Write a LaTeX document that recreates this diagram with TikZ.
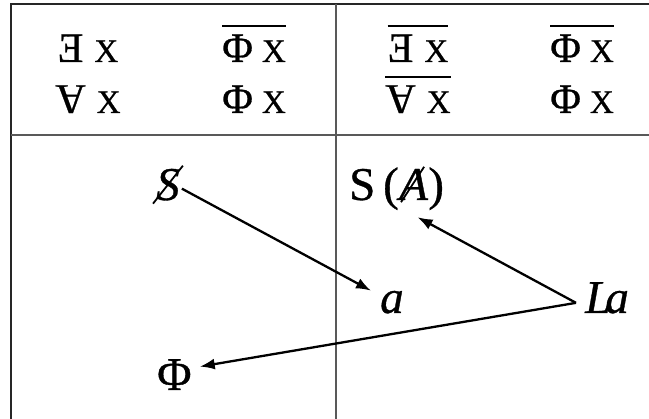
\documentclass[tikz,border=0pt]{standalone}
\usepackage{fontspec}
\usepackage{graphicx}
\setmainfont{Liberation Serif}[FakeBold=0.7]
\usetikzlibrary{arrows.meta}
\newcommand{\myexists}{\reflectbox{E}}
\newcommand{\myforall}{\rotatebox[origin=c]{180}{A}}
\newcommand{\smallx}{{\fontsize{33}{35}\selectfont X}}
\begin{document}
\begin{tikzpicture}[x=1pt,y=-1pt,
  frame/.style={line width=2pt, black!85},
  gridline/.style={line width=1.5pt, black!65},
  top/.style={font=\fontsize{42}{46}\selectfont, inner sep=0pt, anchor=base},
  lab/.style={font=\fontsize{47}{50}\selectfont, inner sep=0pt, anchor=base west},
  bar/.style={line width=2pt},
  strike/.style={line width=1.8pt},
  arr/.style={-{Latex[length=15pt,width=11pt]}, line width=2.3pt}]
\useasboundingbox (0,0) rectangle (649,419);
% frame and grid
\draw[frame] (11,419) -- (11,4) -- (649,4);
\draw[gridline] (11,135) -- (649,135);
\draw[gridline] (336,4) -- (336,419);
% top-left cell
\node[top] (e1) at (88,62) {\myexists\hspace{11pt}\smallx};
\node[top] (f1) at (88,113) {\myforall\hspace{11pt}\smallx};
\node[top] (p1) at (254,62) {Φ\hspace{9pt}\smallx};
\node[top] (p2) at (254,113) {Φ\hspace{9pt}\smallx};
\draw[bar] ([yshift=8pt]p1.north west) -- ([yshift=8pt]p1.north east);
% top-right cell
\node[top] (e2) at (418,62) {\myexists\hspace{11pt}\smallx};
\node[top] (f2) at (418,113) {\myforall\hspace{11pt}\smallx};
\node[top] (p3) at (582,62) {Φ\hspace{9pt}\smallx};
\node[top] (p4) at (582,113) {Φ\hspace{9pt}\smallx};
\draw[bar] ([yshift=8pt]e2.north west) -- ([yshift=8pt]e2.north east);
\draw[bar] ([yshift=8pt]f2.north west) -- ([yshift=8pt]f2.north east);
\draw[bar] ([yshift=8pt]p3.north west) -- ([yshift=8pt]p3.north east);
% bottom labels
\node[lab] (sS) at (156,200) {\itshape S};
\draw[strike] ([shift={(-3,3)}]sS.south west) -- ([shift={(3,-3)}]sS.north east);
\node[lab] (sA1) at (349,200) {S\,(};
\node[lab] (Aa) at (sA1.base east) {\itshape A};
\node[lab] (sA2) at (Aa.base east) {)};
\draw[strike] ([shift={(2,2)}]Aa.south west) -- ([shift={(-4,-2)}]Aa.north east);
\node[lab] (a) at (380,313) {\itshape a};
\node[lab] (La) at (585,313) {\itshape L\kern-6pt a};
\node[lab] (Phi) at (157,390) {Φ};
% arrows
\draw[arr] ([shift={(2,4)}]sS.east) -- ([shift={(-9,0)}]a.north west);
\draw[arr] ([shift={(-9,5)}]La.west) -- ([shift={(4,17)}]Aa.south);
\draw[arr] ([shift={(-9,5)}]La.west) -- ([shift={(8,-8)}]Phi.east);
\end{tikzpicture}
\end{document}
